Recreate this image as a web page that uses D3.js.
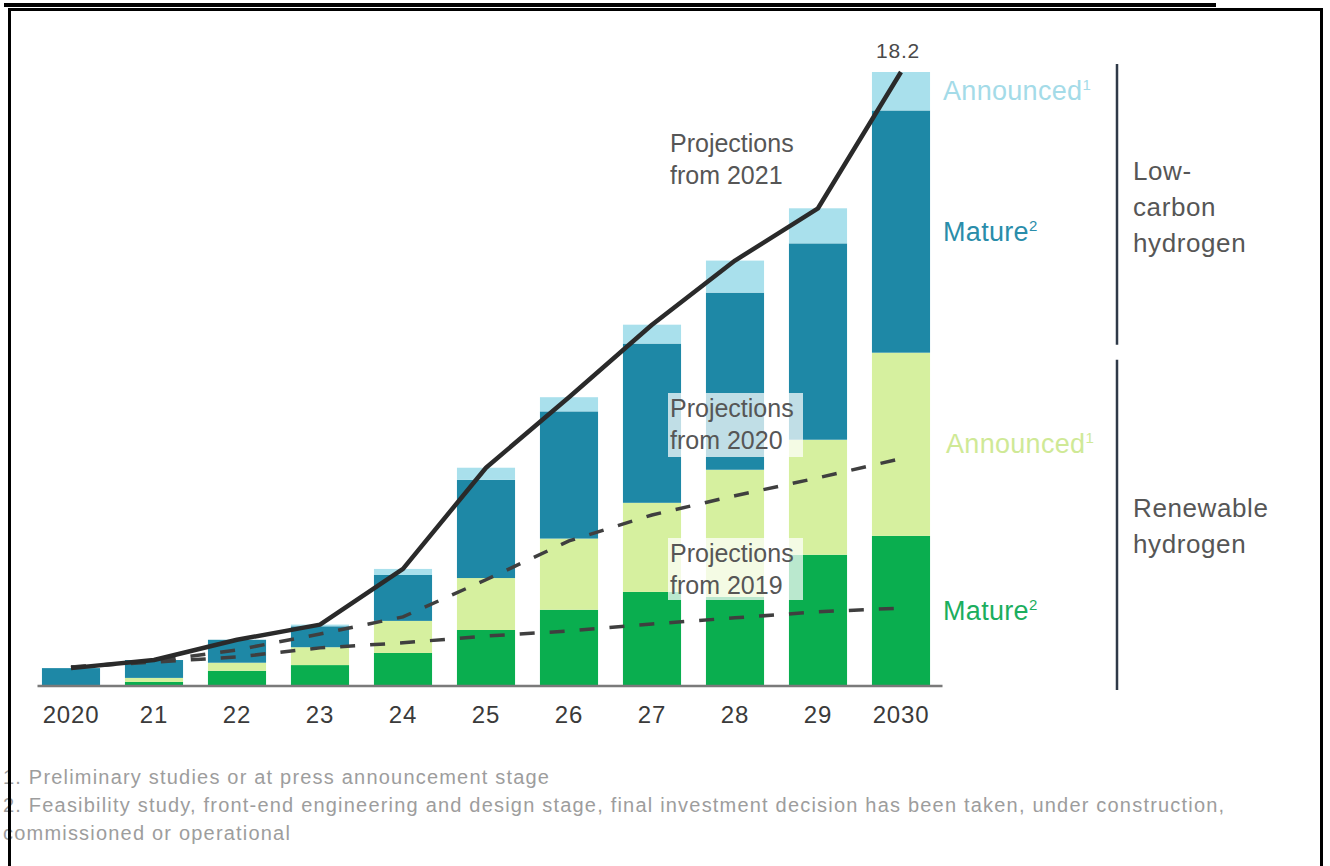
<!DOCTYPE html>
<html>
<head>
<meta charset="utf-8">
<script src="https://cdn.jsdelivr.net/npm/d3@7"></script>
<style>
  html, body { margin: 0; padding: 0; background: #fff; }
  svg { display: block; font-family: "Liberation Sans", Arial, Helvetica, sans-serif; }
</style>
</head>
<body>
<svg id="chart" width="1330" height="866"></svg>
<script>
// Hydrogen project pipeline, Mt per year, 2020–2030
const years = ["2020", "21", "22", "23", "24", "25", "26", "27", "28", "29", "2030"];

// Renewable hydrogen
const renewableMature    = [0, 0.12, 0.45, 0.62, 0.98, 1.66, 2.26, 2.79, 2.64, 3.89, 4.45];
const renewableAnnounced = [0, 0.12, 0.24, 0.53, 0.95, 1.54, 2.11, 2.64, 3.77, 3.41, 5.43];
// Low-carbon hydrogen
const lowCarbonMature    = [0.53, 0.53, 0.68, 0.62, 1.36, 2.91, 3.77, 4.72, 5.25, 5.82, 7.18];
const lowCarbonAnnounced = [0, 0, 0, 0.05, 0.18, 0.36, 0.42, 0.56, 0.95, 1.04, 1.14];

// Earlier projections of the pipeline
const projections2020 = [0.56, 0.74, 1.07, 1.54, 2.05, 3.15, 4.30, 5.07, 5.64, 6.17, 6.74];
const projections2019 = [0.56, 0.71, 0.86, 1.13, 1.28, 1.48, 1.63, 1.84, 2.02, 2.20, 2.31];

const footnotes = [
  "1. Preliminary studies or at press announcement stage",
  "2. Feasibility study, front-end engineering and design stage, final investment decision has been taken, under construction,",
  "commissioned or operational"
];

const keys = ["renMature", "renAnnounced", "lcMature", "lcAnnounced"];
const colors = {
  renMature: "#0aae4f",
  renAnnounced: "#d6f09f",
  lcMature: "#1e88a6",
  lcAnnounced: "#a9e0ec"
};
const legendText = {
  renMature: { label: "Mature", sup: "2", color: "#1bae5e" },
  renAnnounced: { label: "Announced", sup: "1", color: "#cfe996" },
  lcMature: { label: "Mature", sup: "2", color: "#2a8daa" },
  lcAnnounced: { label: "Announced", sup: "1", color: "#a4dbe8" }
};

const rows = years.map((yr, i) => ({
  year: yr,
  renMature: renewableMature[i],
  renAnnounced: renewableAnnounced[i],
  lcMature: lowCarbonMature[i],
  lcAnnounced: lowCarbonAnnounced[i]
}));
const totals = rows.map(r => keys.reduce((s, k) => s + r[k], 0));

const svg = d3.select("#chart");

const x = d3.scaleBand()
  .domain(years)
  .range([29.5, 942.5])
  .paddingInner(0.3)
  .paddingOuter(0.15);

const y = d3.scaleLinear()
  .domain([0, d3.max(totals)])
  .range([686, 72]);

const stack = d3.stack().keys(keys)(rows);

// stacked bars
svg.append("g")
  .selectAll("g")
  .data(stack)
  .join("g")
    .attr("fill", d => colors[d.key])
  .selectAll("rect")
  .data(d => d)
  .join("rect")
    .attr("x", d => x(d.data.year))
    .attr("y", d => y(d[1]))
    .attr("width", x.bandwidth())
    .attr("height", d => Math.max(0, y(d[0]) - y(d[1])));

// x axis
const axis = svg.append("g")
  .attr("transform", `translate(0,${y(0)})`)
  .call(d3.axisBottom(x).tickSize(0).tickPadding(20));
axis.select(".domain")
  .attr("d", `M${x.range()[0] + 8},0H${x.range()[1]}`)
  .attr("stroke", "#7a7a7a")
  .attr("stroke-width", 2.5);
axis.selectAll("text")
  .attr("font-size", 24)
  .attr("letter-spacing", "0.8px")
  .attr("fill", "#3a3a3a")
  .attr("font-family", "Liberation Sans, Arial, sans-serif");

// translucent label panels
const textColor = "#565656";
const panels = [
  { x0: 668, y0: 393, x1: 803, y1: 457 },
  { x0: 668, y0: 538, x1: 803, y1: 600 }
];
svg.append("g")
  .selectAll("rect")
  .data(panels)
  .join("rect")
    .attr("x", d => d.x0)
    .attr("y", d => d.y0)
    .attr("width", d => d.x1 - d.x0)
    .attr("height", d => d.y1 - d.y0)
    .attr("fill", "#fff")
    .attr("opacity", 0.72);

const cx = d => x(d) + x.bandwidth() / 2;
const line = d3.line()
  .x((v, i) => cx(years[i]))
  .y(v => y(v));

// earlier projections (dashed)
[projections2019, projections2020].forEach(series => {
  svg.append("path")
    .attr("d", line(series))
    .attr("fill", "none")
    .attr("stroke", "#3f3f3f")
    .attr("stroke-width", 3.5)
    .attr("stroke-dasharray", "15 15");
});

// projection from 2021 follows the bar totals
svg.append("path")
  .attr("d", line(totals))
  .attr("fill", "none")
  .attr("stroke", "#2a2a2a")
  .attr("stroke-width", 4.5)
  .attr("stroke-linejoin", "round");

// total value above the last bar
const last = years.length - 1;
svg.append("text")
  .attr("x", cx(years[last]) - 3)
  .attr("y", y(totals[last]) - 14)
  .attr("text-anchor", "middle")
  .attr("font-size", 21)
  .attr("letter-spacing", "0.8px")
  .attr("fill", "#4a4a4a")
  .text(d3.format(".1f")(totals[last]));

// projection labels
const projLabels = [
  { x: 670, y: 152, lines: ["Projections", "from 2021"] },
  { x: 670, y: 417, lines: ["Projections", "from 2020"] },
  { x: 670, y: 562, lines: ["Projections", "from 2019"] }
];
projLabels.forEach(p => {
  const t = svg.append("text")
    .attr("font-size", 25)
    .attr("letter-spacing", "0px")
    .attr("fill", textColor);
  p.lines.forEach((ln, i) => {
    t.append("tspan").attr("x", p.x).attr("y", p.y + i * 32).text(ln);
  });
});

// series labels beside the last bar, centred on each segment
const lastX = x(years[last]) + x.bandwidth() + 13;
stack.forEach(s => {
  const seg = s[last];
  const info = legendText[s.key];
  const t = svg.append("text")
    .attr("x", lastX + (s.key === "renAnnounced" ? 3 : 0))
    .attr("y", (y(seg[0]) + y(seg[1])) / 2 + 9)
    .attr("font-size", 27)
    .attr("letter-spacing", "0.3px")
    .attr("fill", info.color);
  t.append("tspan").text(info.label);
  t.append("tspan")
    .attr("font-size", 15)
    .attr("dy", -10)
    .text(info.sup);
});

// group brackets
const renTop = y(renewableMature[last] + renewableAnnounced[last]);
const brackets = [
  { y0: y(totals[last]) - 8, y1: renTop - 8, lines: ["Low-", "carbon", "hydrogen"], ty: 180 },
  { y0: renTop + 7, y1: y(0) + 4, lines: ["Renewable", "hydrogen"], ty: 517 }
];
brackets.forEach(b => {
  svg.append("line")
    .attr("x1", 1117).attr("x2", 1117)
    .attr("y1", b.y0).attr("y2", b.y1)
    .attr("stroke", "#2f3a48")
    .attr("stroke-width", 2.5);
  const t = svg.append("text")
    .attr("font-size", 26)
    .attr("letter-spacing", "0.6px")
    .attr("fill", textColor);
  b.lines.forEach((ln, i) => {
    t.append("tspan").attr("x", 1133).attr("y", b.ty + i * 36).text(ln);
  });
});

// footnotes
svg.append("g")
  .selectAll("text")
  .data(footnotes)
  .join("text")
    .attr("x", 3)
    .attr("y", (d, i) => 784 + i * 28)
    .attr("font-size", 20)
    .attr("letter-spacing", "1.2px")
    .attr("fill", "#9d9d9d")
    .text(d => d);

// page frame
svg.append("rect")
  .attr("x", 4).attr("y", 3)
  .attr("width", 1212).attr("height", 4)
  .attr("fill", "#000");
svg.append("rect")
  .attr("x", 9.5).attr("y", 9.5)
  .attr("width", 1312).attr("height", 900)
  .attr("fill", "none")
  .attr("stroke", "#000")
  .attr("stroke-width", 3);
</script>
</body>
</html>
